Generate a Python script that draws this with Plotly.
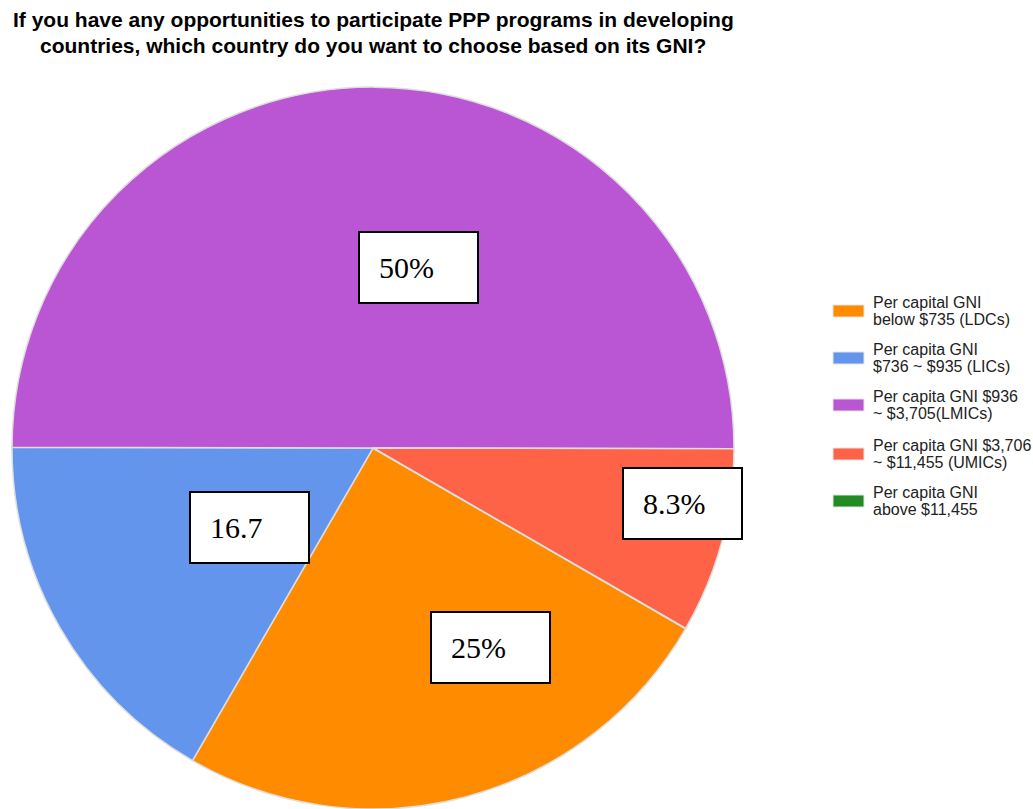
import plotly.graph_objects as go

# ---- data ----
labels = [
    "Per capital GNI<br>below $735 (LDCs)",
    "Per capita GNI<br>$736 ~ $935 (LICs)",
    "Per capita GNI $936<br>~ $3,705(LMICs)",
    "Per capita GNI $3,706<br>~ $11,455 (UMICs)",
    "Per capita GNI<br>above $11,455",
]
values = [25, 16.7, 50, 8.3, 0]
colors = ["#FF8C00", "#6495ED", "#BA55D3", "#FF6347", "#228B22"]
box_texts = ["25%", "16.7", "50%", "8.3%", None]
title_lines = [
    "If you have any opportunities to participate PPP programs in developing",
    "countries, which country do you want to choose based on its GNI?",
]

W, H = 1033, 809


def px(x):
    return x / W


def py(y):
    return 1 - y / H


fig = go.Figure()
fig.add_trace(go.Pie(
    labels=labels,
    values=values,
    sort=False,
    direction="clockwise",
    rotation=120,
    textinfo="none",
    marker=dict(colors=colors, line=dict(color="#dedede", width=1.5)),
    domain=dict(x=[px(11), px(735)], y=[0, py(87)]),
    showlegend=False,
))

annotations = []
# title (two lines, tight spacing)
for line, ly in zip(title_lines, [20, 45]):
    annotations.append(dict(
        text="<b>" + line + "</b>", x=px(373), y=py(ly), xref="paper", yref="paper",
        xanchor="center", yanchor="middle", showarrow=False, align="center",
        borderpad=0,
        font=dict(family="Arial, Liberation Sans", size=21, color="#000000"),
    ))

# boxed labels (top-left corner pixel positions)
box_pos = [(430, 611), (189, 491), (358, 231), (622, 467), None]
for t, pos in zip(box_texts, box_pos):
    if t is None:
        continue
    annotations.append(dict(
        text=t, x=px(pos[0]), y=py(pos[1]), xref="paper", yref="paper",
        xanchor="left", yanchor="top", showarrow=False, align="left", valign="middle",
        width=79, height=31, borderpad=19, borderwidth=2, bordercolor="#000000",
        bgcolor="#ffffff",
        font=dict(family="Times New Roman, Liberation Serif", size=30, color="#000000"),
    ))

# custom legend
shapes = []
leg_centers = [311, 358, 405, 454, 501]
for lab, col, cy in zip(labels, colors, leg_centers):
    shapes.append(dict(
        type="rect", xref="paper", yref="paper",
        x0=px(833), x1=px(864), y0=py(cy - 6), y1=py(cy + 6),
        fillcolor=col, line=dict(color="#e4e4e4", width=1),
    ))
    for part, dy in zip(lab.split("<br>"), [-8.5, 8.5]):
        annotations.append(dict(
            text=part, x=px(872), y=py(cy + dy), xref="paper", yref="paper",
            xanchor="left", yanchor="middle", showarrow=False, align="left",
            borderpad=0,
            font=dict(family="Arial, Liberation Sans", size=16, color="#222222"),
        ))

fig.update_layout(
    width=W, height=H,
    margin=dict(l=0, r=0, t=0, b=0),
    paper_bgcolor="#ffffff",
    plot_bgcolor="#ffffff",
    annotations=annotations,
    shapes=shapes,
    showlegend=False,
)

fig.write_html(
    "out.html",
    config={"displayModeBar": False},
    post_script="document.body.style.margin='0px';document.body.style.overflow='hidden';",
)
